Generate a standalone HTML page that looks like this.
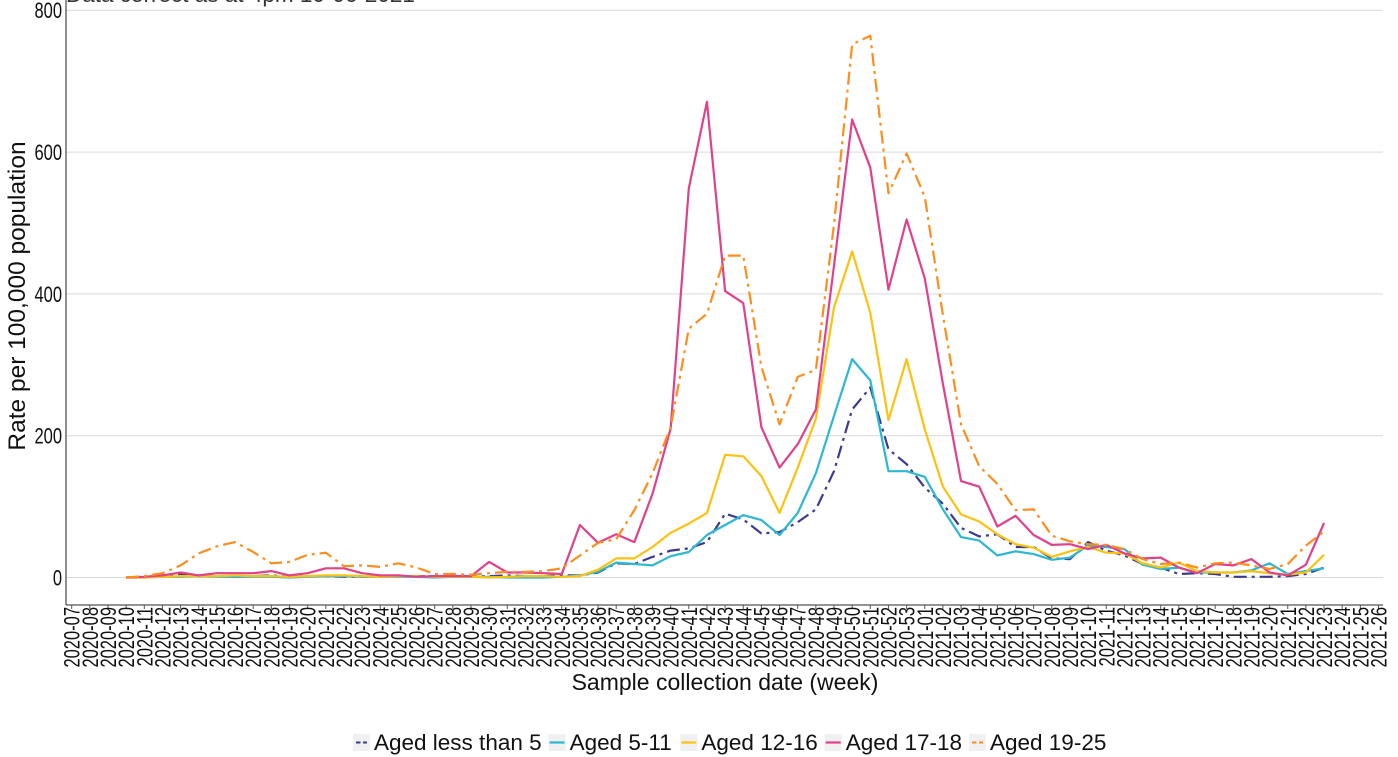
<!DOCTYPE html>
<html>
<head>
<meta charset="utf-8">
<style>
html,body{margin:0;padding:0;background:#fff;}
svg{display:block;font-family:"Liberation Sans",Arial,sans-serif;}
</style>
</head>
<body>
<svg width="1398" height="757" viewBox="0 0 1398 757" xmlns="http://www.w3.org/2000/svg">
<rect width="1398" height="757" fill="#fff"/>
<!-- cut-off subtitle -->
<text x="66" y="2" font-size="22.5" fill="#333">Data correct as at 4pm 10-06-2021</text>

<!-- gridlines -->
<g stroke="#d9d9d9" stroke-width="1">
<line x1="66" y1="577.5" x2="1383" y2="577.5"/>
<line x1="66" y1="435.7" x2="1383" y2="435.7"/>
<line x1="66" y1="293.9" x2="1383" y2="293.9"/>
<line x1="66" y1="152.1" x2="1383" y2="152.1"/>
<line x1="66" y1="10.3" x2="1383" y2="10.3"/>
</g>

<!-- axes -->
<line x1="66" y1="0" x2="66" y2="605" stroke="#555" stroke-width="1.3"/>
<line x1="66" y1="605" x2="1383" y2="605" stroke="#555" stroke-width="1.3"/>
<path stroke="#555" stroke-width="1" d="M71.7 605v4M89.85 605v4M108 605v4M126.15 605v4M144.3 605v4M162.45 605v4M180.6 605v4M198.75 605v4M216.9 605v4M235.05 605v4M253.2 605v4M271.35 605v4M289.5 605v4M307.65 605v4M325.8 605v4M343.95 605v4M362.1 605v4M380.25 605v4M398.4 605v4M416.55 605v4M434.7 605v4M452.85 605v4M471 605v4M489.15 605v4M507.3 605v4M525.45 605v4M543.6 605v4M561.75 605v4M579.9 605v4M598.05 605v4M616.2 605v4M634.35 605v4M652.5 605v4M670.65 605v4M688.8 605v4M706.95 605v4M725.1 605v4M743.25 605v4M761.4 605v4M779.55 605v4M797.7 605v4M815.85 605v4M834 605v4M852.15 605v4M870.3 605v4M888.45 605v4M906.6 605v4M924.75 605v4M942.9 605v4M961.05 605v4M979.2 605v4M997.35 605v4M1015.5 605v4M1033.65 605v4M1051.8 605v4M1069.95 605v4M1088.1 605v4M1106.25 605v4M1124.4 605v4M1142.55 605v4M1160.7 605v4M1178.85 605v4M1197 605v4M1215.15 605v4M1233.3 605v4M1251.45 605v4M1269.6 605v4M1287.75 605v4M1305.9 605v4M1324.05 605v4M1342.2 605v4M1360.35 605v4M1378.5 605v4"/>

<!-- y tick labels -->
<g font-size="22" fill="#111" text-anchor="end">
<text transform="translate(62,585.4) scale(0.75,1)">0</text>
<text transform="translate(62,443.6) scale(0.75,1)">200</text>
<text transform="translate(62,301.8) scale(0.75,1)">400</text>
<text transform="translate(62,160) scale(0.75,1)">600</text>
<text transform="translate(62,18.2) scale(0.75,1)">800</text>
</g>

<!-- y title -->
<text transform="translate(25,296) rotate(-90)" font-size="24.5" fill="#111" text-anchor="middle">Rate per 100,000 population</text>

<!-- x tick labels -->
<g font-size="22" fill="#111" text-anchor="end">
<text transform="translate(79.7,607) rotate(-90) scale(0.75,1)">2020-07</text>
<text transform="translate(97.85,607) rotate(-90) scale(0.75,1)">2020-08</text>
<text transform="translate(116,607) rotate(-90) scale(0.75,1)">2020-09</text>
<text transform="translate(134.15,607) rotate(-90) scale(0.75,1)">2020-10</text>
<text transform="translate(152.3,607) rotate(-90) scale(0.75,1)">2020-11</text>
<text transform="translate(170.45,607) rotate(-90) scale(0.75,1)">2020-12</text>
<text transform="translate(188.6,607) rotate(-90) scale(0.75,1)">2020-13</text>
<text transform="translate(206.75,607) rotate(-90) scale(0.75,1)">2020-14</text>
<text transform="translate(224.9,607) rotate(-90) scale(0.75,1)">2020-15</text>
<text transform="translate(243.05,607) rotate(-90) scale(0.75,1)">2020-16</text>
<text transform="translate(261.2,607) rotate(-90) scale(0.75,1)">2020-17</text>
<text transform="translate(279.35,607) rotate(-90) scale(0.75,1)">2020-18</text>
<text transform="translate(297.5,607) rotate(-90) scale(0.75,1)">2020-19</text>
<text transform="translate(315.65,607) rotate(-90) scale(0.75,1)">2020-20</text>
<text transform="translate(333.8,607) rotate(-90) scale(0.75,1)">2020-21</text>
<text transform="translate(351.95,607) rotate(-90) scale(0.75,1)">2020-22</text>
<text transform="translate(370.1,607) rotate(-90) scale(0.75,1)">2020-23</text>
<text transform="translate(388.25,607) rotate(-90) scale(0.75,1)">2020-24</text>
<text transform="translate(406.4,607) rotate(-90) scale(0.75,1)">2020-25</text>
<text transform="translate(424.55,607) rotate(-90) scale(0.75,1)">2020-26</text>
<text transform="translate(442.7,607) rotate(-90) scale(0.75,1)">2020-27</text>
<text transform="translate(460.85,607) rotate(-90) scale(0.75,1)">2020-28</text>
<text transform="translate(479,607) rotate(-90) scale(0.75,1)">2020-29</text>
<text transform="translate(497.15,607) rotate(-90) scale(0.75,1)">2020-30</text>
<text transform="translate(515.3,607) rotate(-90) scale(0.75,1)">2020-31</text>
<text transform="translate(533.45,607) rotate(-90) scale(0.75,1)">2020-32</text>
<text transform="translate(551.6,607) rotate(-90) scale(0.75,1)">2020-33</text>
<text transform="translate(569.75,607) rotate(-90) scale(0.75,1)">2020-34</text>
<text transform="translate(587.9,607) rotate(-90) scale(0.75,1)">2020-35</text>
<text transform="translate(606.05,607) rotate(-90) scale(0.75,1)">2020-36</text>
<text transform="translate(624.2,607) rotate(-90) scale(0.75,1)">2020-37</text>
<text transform="translate(642.35,607) rotate(-90) scale(0.75,1)">2020-38</text>
<text transform="translate(660.5,607) rotate(-90) scale(0.75,1)">2020-39</text>
<text transform="translate(678.65,607) rotate(-90) scale(0.75,1)">2020-40</text>
<text transform="translate(696.8,607) rotate(-90) scale(0.75,1)">2020-41</text>
<text transform="translate(714.95,607) rotate(-90) scale(0.75,1)">2020-42</text>
<text transform="translate(733.1,607) rotate(-90) scale(0.75,1)">2020-43</text>
<text transform="translate(751.25,607) rotate(-90) scale(0.75,1)">2020-44</text>
<text transform="translate(769.4,607) rotate(-90) scale(0.75,1)">2020-45</text>
<text transform="translate(787.55,607) rotate(-90) scale(0.75,1)">2020-46</text>
<text transform="translate(805.7,607) rotate(-90) scale(0.75,1)">2020-47</text>
<text transform="translate(823.85,607) rotate(-90) scale(0.75,1)">2020-48</text>
<text transform="translate(842,607) rotate(-90) scale(0.75,1)">2020-49</text>
<text transform="translate(860.15,607) rotate(-90) scale(0.75,1)">2020-50</text>
<text transform="translate(878.3,607) rotate(-90) scale(0.75,1)">2020-51</text>
<text transform="translate(896.45,607) rotate(-90) scale(0.75,1)">2020-52</text>
<text transform="translate(914.6,607) rotate(-90) scale(0.75,1)">2020-53</text>
<text transform="translate(932.75,607) rotate(-90) scale(0.75,1)">2021-01</text>
<text transform="translate(950.9,607) rotate(-90) scale(0.75,1)">2021-02</text>
<text transform="translate(969.05,607) rotate(-90) scale(0.75,1)">2021-03</text>
<text transform="translate(987.2,607) rotate(-90) scale(0.75,1)">2021-04</text>
<text transform="translate(1005.35,607) rotate(-90) scale(0.75,1)">2021-05</text>
<text transform="translate(1023.5,607) rotate(-90) scale(0.75,1)">2021-06</text>
<text transform="translate(1041.65,607) rotate(-90) scale(0.75,1)">2021-07</text>
<text transform="translate(1059.8,607) rotate(-90) scale(0.75,1)">2021-08</text>
<text transform="translate(1077.95,607) rotate(-90) scale(0.75,1)">2021-09</text>
<text transform="translate(1096.1,607) rotate(-90) scale(0.75,1)">2021-10</text>
<text transform="translate(1114.25,607) rotate(-90) scale(0.75,1)">2021-11</text>
<text transform="translate(1132.4,607) rotate(-90) scale(0.75,1)">2021-12</text>
<text transform="translate(1150.55,607) rotate(-90) scale(0.75,1)">2021-13</text>
<text transform="translate(1168.7,607) rotate(-90) scale(0.75,1)">2021-14</text>
<text transform="translate(1186.85,607) rotate(-90) scale(0.75,1)">2021-15</text>
<text transform="translate(1205,607) rotate(-90) scale(0.75,1)">2021-16</text>
<text transform="translate(1223.15,607) rotate(-90) scale(0.75,1)">2021-17</text>
<text transform="translate(1241.3,607) rotate(-90) scale(0.75,1)">2021-18</text>
<text transform="translate(1259.45,607) rotate(-90) scale(0.75,1)">2021-19</text>
<text transform="translate(1277.6,607) rotate(-90) scale(0.75,1)">2021-20</text>
<text transform="translate(1295.75,607) rotate(-90) scale(0.75,1)">2021-21</text>
<text transform="translate(1313.9,607) rotate(-90) scale(0.75,1)">2021-22</text>
<text transform="translate(1332.05,607) rotate(-90) scale(0.75,1)">2021-23</text>
<text transform="translate(1350.2,607) rotate(-90) scale(0.75,1)">2021-24</text>
<text transform="translate(1368.35,607) rotate(-90) scale(0.75,1)">2021-25</text>
<text transform="translate(1386.5,607) rotate(-90) scale(0.75,1)">2021-26</text>
</g>

<!-- x title -->
<text x="725" y="690" font-size="23" fill="#111" text-anchor="middle">Sample collection date (week)</text>

<!-- series -->
<g fill="none" stroke-width="2.2" stroke-linejoin="round">
<polyline stroke="#3C3B8E" stroke-dasharray="13 5 3 5" points="126.15,577.5 144.3,576.8 162.45,575.4 180.6,574 198.75,576.1 216.9,576.1 235.05,576.8 253.2,576.1 271.35,575.4 289.5,576.8 307.65,576.1 325.8,576.1 343.95,576.8 362.1,576.8 380.25,576.1 398.4,576.1 416.55,576.1 434.7,576.1 452.85,576.8 471,576.8 489.15,576.1 507.3,575.4 525.45,576.1 543.6,576.1 561.75,575.4 579.9,575.4 598.05,572.5 616.2,563.3 634.35,564 652.5,556.9 670.65,550.6 688.8,548.4 706.95,542.1 725.1,513.7 743.25,519.4 761.4,533.5 779.55,532.1 797.7,522.2 815.85,509.4 834,471.2 852.15,409.5 870.3,387.5 888.45,449.2 906.6,464.1 924.75,487.5 942.9,503.8 961.05,527.9 979.2,536.4 997.35,534.3 1015.5,547 1033.65,547 1051.8,558.4 1069.95,559.1 1088.1,542.1 1106.25,550.6 1124.4,555.5 1142.55,564 1160.7,567.6 1178.85,574 1197,573.2 1215.15,574 1233.3,576.8 1251.45,576.8 1269.6,576.8 1287.75,576.1 1305.9,574 1324.05,567.6"/>
<polyline stroke="#2CB8D0" points="126.15,577.5 144.3,577.5 162.45,576.8 180.6,576.8 198.75,576.1 216.9,576.8 235.05,576.8 253.2,576.8 271.35,576.8 289.5,577.5 307.65,576.8 325.8,576.1 343.95,576.1 362.1,576.8 380.25,576.8 398.4,576.8 416.55,576.8 434.7,577.5 452.85,576.8 471,576.8 489.15,576.8 507.3,577.5 525.45,577.5 543.6,577.5 561.75,576.8 579.9,575.4 598.05,571.8 616.2,562.6 634.35,564 652.5,565.4 670.65,556.2 688.8,552 706.95,535 725.1,525 743.25,515.1 761.4,520.1 779.55,535 797.7,513 815.85,473.3 834,415.8 852.15,359.1 870.3,380.4 888.45,471.2 906.6,471.2 924.75,476.8 942.9,509.4 961.05,537.1 979.2,540.6 997.35,555.5 1015.5,551.3 1033.65,554.1 1051.8,559.8 1069.95,557.6 1088.1,545.6 1106.25,547 1124.4,549.1 1142.55,564.7 1160.7,569 1178.85,567.6 1197,572.5 1215.15,572.5 1233.3,572.5 1251.45,570.4 1269.6,563.3 1287.75,574 1305.9,571.1 1324.05,568.3"/>
<polyline stroke="#FDC20F" points="126.15,577.5 144.3,577.5 162.45,576.8 180.6,576.1 198.75,576.1 216.9,576.1 235.05,575.4 253.2,576.1 271.35,576.1 289.5,576.8 307.65,576.1 325.8,575.4 343.95,575.4 362.1,576.1 380.25,576.8 398.4,576.1 416.55,576.1 434.7,576.8 452.85,576.8 471,576.8 489.15,577.5 507.3,576.8 525.45,576.1 543.6,576.1 561.75,576.8 579.9,576.1 598.05,569.7 616.2,558.4 634.35,558.4 652.5,547 670.65,532.8 688.8,523.6 706.95,513 725.1,454.8 743.25,456.3 761.4,476.1 779.55,513 797.7,467.6 815.85,418.7 834,307.4 852.15,251.4 870.3,313 888.45,420.1 906.6,359.1 924.75,429.3 942.9,486.7 961.05,514.4 979.2,521.5 997.35,534.3 1015.5,544.2 1033.65,547.7 1051.8,556.9 1069.95,551.3 1088.1,547 1106.25,552.7 1124.4,553.4 1142.55,563.3 1160.7,567.6 1178.85,562.6 1197,571.1 1215.15,572.5 1233.3,572.5 1251.45,571.1 1269.6,573.2 1287.75,574.7 1305.9,572.5 1324.05,554.8"/>
<polyline stroke="#E0418A" points="126.15,577.5 144.3,576.8 162.45,575.4 180.6,572.5 198.75,575.4 216.9,573.2 235.05,573.2 253.2,573.2 271.35,571.1 289.5,575.4 307.65,573.2 325.8,568.3 343.95,568.3 362.1,573.2 380.25,575.4 398.4,575.4 416.55,576.8 434.7,576.1 452.85,576.1 471,576.1 489.15,561.9 507.3,572.5 525.45,572.5 543.6,573.2 561.75,574 579.9,525 598.05,542.8 616.2,534.3 634.35,542.1 652.5,493.8 670.65,428.6 688.8,188.3 706.95,101.8 725.1,291.1 743.25,303.1 761.4,427.2 779.55,467.6 797.7,444.2 815.85,409.5 834,265.5 852.15,119.5 870.3,167.7 888.45,289.6 906.6,219.5 924.75,278.3 942.9,383.9 961.05,481.1 979.2,486.7 997.35,526.5 1015.5,515.8 1033.65,535 1051.8,544.9 1069.95,544.2 1088.1,549.1 1106.25,544.9 1124.4,553.4 1142.55,558.4 1160.7,557.6 1178.85,567.6 1197,573.2 1215.15,564 1233.3,565.4 1251.45,559.1 1269.6,572.5 1287.75,575.4 1305.9,564.7 1324.05,522.9"/>
<polyline stroke="#FF8D1E" stroke-dasharray="13 5 3 5" points="126.15,577.5 144.3,576.1 162.45,573.2 180.6,565.4 198.75,553.4 216.9,546.3 235.05,542.1 253.2,552 271.35,563.3 289.5,561.9 307.65,554.8 325.8,552.7 343.95,566.2 362.1,565.4 380.25,566.9 398.4,563.3 416.55,567.6 434.7,574 452.85,574 471,574.7 489.15,573.2 507.3,571.8 525.45,571.8 543.6,571.1 561.75,568.3 579.9,555.5 598.05,542.8 616.2,539.2 634.35,510.1 652.5,473.3 670.65,427.2 688.8,328.6 706.95,313.7 725.1,255.6 743.25,255.6 761.4,366.9 779.55,424.4 797.7,376.9 815.85,369.8 834,224.4 852.15,44.3 870.3,35.8 888.45,193.2 906.6,153.5 924.75,196.8 942.9,315.2 961.05,424.4 979.2,466.2 997.35,483.9 1015.5,510.1 1033.65,509.4 1051.8,535.7 1069.95,541.3 1088.1,544.2 1106.25,544.9 1124.4,549.1 1142.55,559.1 1160.7,564 1178.85,562.6 1197,567.6 1215.15,563.3 1233.3,562.6 1251.45,565.4 1269.6,569 1287.75,564 1305.9,545.6 1324.05,531.4"/>
</g>

<!-- legend -->
<g>
<rect x="353" y="734" width="17" height="17" fill="#f0f0f0"/>
<line x1="356" y1="742.5" x2="360.5" y2="742.5" stroke="#3C3B8E" stroke-width="2"/>
<line x1="363" y1="742.5" x2="367" y2="742.5" stroke="#3C3B8E" stroke-width="2"/>
<text x="374" y="750" font-size="22.5" fill="#111">Aged less than 5</text>

<rect x="548.6" y="734" width="17" height="17" fill="#f0f0f0"/>
<line x1="549.6" y1="742.5" x2="564.6" y2="742.5" stroke="#2CB8D0" stroke-width="2.2"/>
<text x="569.6" y="750" font-size="22.5" fill="#111">Aged 5-11</text>

<rect x="680.4" y="734" width="17" height="17" fill="#f0f0f0"/>
<line x1="681.4" y1="742.5" x2="696.4" y2="742.5" stroke="#FDC20F" stroke-width="2.2"/>
<text x="701.4" y="750" font-size="22.5" fill="#111">Aged 12-16</text>

<rect x="824.7" y="734" width="17" height="17" fill="#f0f0f0"/>
<line x1="825.7" y1="742.5" x2="840.7" y2="742.5" stroke="#E0418A" stroke-width="2.2"/>
<text x="845.7" y="750" font-size="22.5" fill="#111">Aged 17-18</text>

<rect x="969" y="734" width="17" height="17" fill="#f0f0f0"/>
<line x1="972" y1="742.5" x2="976.5" y2="742.5" stroke="#FF8D1E" stroke-width="2"/>
<line x1="979" y1="742.5" x2="983" y2="742.5" stroke="#FF8D1E" stroke-width="2"/>
<text x="990" y="750" font-size="22.5" fill="#111">Aged 19-25</text>
</g>
</svg>
</body>
</html>
